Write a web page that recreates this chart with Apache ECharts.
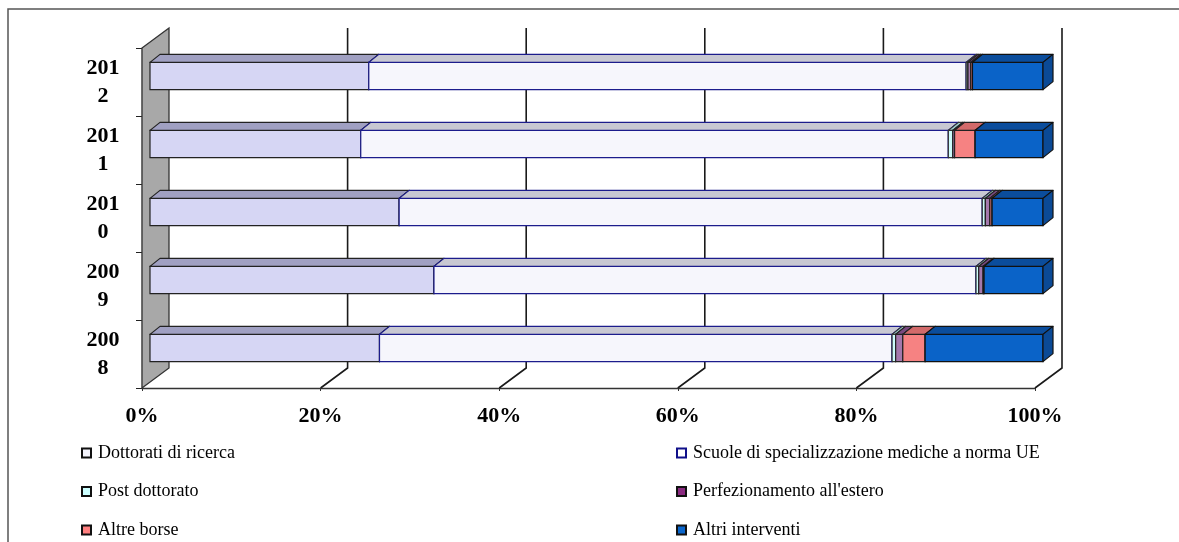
<!DOCTYPE html>
<html>
<head>
<meta charset="utf-8">
<script src="https://cdn.jsdelivr.net/npm/echarts@6/dist/echarts.min.js"></script>
<style>
  html, body { margin: 0; padding: 0; background: #fff; }
  #chart { width: 1179px; height: 542px; }
</style>
</head>
<body>
<div id="chart"></div>
<script>
// Categories (bottom to top) and x-axis ticks
const years = ['2008', '2009', '2010', '2011', '2012'];
const xTicks = [0, 20, 40, 60, 80, 100];

// Share of funding per year (%)
const dottorati       = [25.7, 31.8, 27.9, 23.6, 24.5];
const scuole          = [57.4, 60.7, 65.3, 65.8, 66.9];
const postDottorato   = [0.4, 0.3, 0.35, 0.5, 0.2];
const perfezionamento = [0.8, 0.5, 0.5, 0.2, 0.3];
const altreBorse      = [2.5, 0.1, 0.25, 2.3, 0.2];
const altriInterventi = [13.2, 6.6, 5.7, 7.6, 7.9];

const names = [
  'Dottorati di ricerca',
  'Scuole di specializzazione mediche a norma UE',
  'Post dottorato',
  "Perfezionamento all'estero",
  'Altre borse',
  'Altri interventi'
];
const values = [dottorati, scuole, postDottorato, perfezionamento, altreBorse, altriInterventi];

// Face colours: front, top, side, outline
const faces = [
  { front: '#d6d6f4', top: '#a0a0c2', side: '#a0a0c2', line: '#222222' },
  { front: '#f6f6fc', top: '#c8c8d2', side: '#c8c8d2', line: '#1c1c8c' },
  { front: '#ccfcfc', top: '#9ccccc', side: '#9ccccc', line: '#333333' },
  { front: '#a478ac', top: '#7a4a80', side: '#7a4a80', line: '#222222' },
  { front: '#f68282', top: '#d26a6a', side: '#c86060', line: '#222222' },
  { front: '#0a63c8', top: '#0b4d9c', side: '#0b4a96', line: '#111111' }
];
const legendIcons = [
  { color: '#f4f4fc', borderColor: '#111111' },
  { color: '#ffffff', borderColor: '#10108a' },
  { color: '#ccffff', borderColor: '#111111' },
  { color: '#8a2a80', borderColor: '#111111' },
  { color: '#ff7f7f', borderColor: '#111111' },
  { color: '#0a66cc', borderColor: '#111111' }
];

const FONT = "'Liberation Serif', 'Times New Roman', serif";

// 3D look: back wall offset, bar front offset, bar depth
const WALL_DX = 27, WALL_DY = -20;
const BAR_DX = 8, BAR_DY = -6;
const DEPTH_DX = 10, DEPTH_DY = -8;

// Stacked segments: [start, end, yearIndex]
function segments(k) {
  return years.map((y, i) => {
    let start = 0;
    for (let j = 0; j < k; j++) start += values[j][i];
    return [start, start + values[k][i], i];
  });
}

function barRenderer(face) {
  return function (params, api) {
    const a = api.coord([api.value(0), api.value(2)]);
    const b = api.coord([api.value(1), api.value(2)]);
    const band = api.size([0, 1])[1];
    const h = band * 0.4;
    const x0 = a[0] + BAR_DX, x1 = b[0] + BAR_DX;
    const yc = a[1] + BAR_DY;
    const yt = yc - h / 2, yb = yc + h / 2;
    const lw = 1.2;
    return {
      type: 'group',
      children: [
        { type: 'rect', shape: { x: x0, y: yt, width: x1 - x0, height: h },
          style: { fill: face.front, stroke: face.line, lineWidth: lw } },
        { type: 'polygon', shape: { points: [[x0, yt], [x1, yt], [x1 + DEPTH_DX, yt + DEPTH_DY], [x0 + DEPTH_DX, yt + DEPTH_DY]] },
          style: { fill: face.top, stroke: face.line, lineWidth: lw, lineJoin: 'round' } },
        { type: 'polygon', shape: { points: [[x1, yt], [x1 + DEPTH_DX, yt + DEPTH_DY], [x1 + DEPTH_DX, yb + DEPTH_DY], [x1, yb]] },
          style: { fill: face.side, stroke: face.line, lineWidth: lw, lineJoin: 'round' } }
      ]
    };
  };
}

// Side wall, back-wall grid lines and floor diagonals
function wallRenderer(params, api) {
  const v = api.value(0);
  const top = api.coord([v, years.length - 1]);
  const bot = api.coord([v, 0]);
  const band = api.size([0, 1])[1];
  const x = top[0];
  const yTop = top[1] - band / 2, yBot = bot[1] + band / 2;
  if (v === 0) {
    return {
      type: 'polygon',
      shape: { points: [[x, yTop], [x + WALL_DX, yTop + WALL_DY], [x + WALL_DX, yBot + WALL_DY], [x, yBot]] },
      style: { fill: '#a8a8a8', stroke: '#333333', lineWidth: 1.3 }
    };
  }
  return {
    type: 'polyline',
    shape: { points: [[x + WALL_DX, yTop + WALL_DY], [x + WALL_DX, yBot + WALL_DY], [x, yBot]] },
    style: { fill: null, stroke: '#1a1a1a', lineWidth: 1.6 }
  };
}

const series = [{
  type: 'custom',
  name: 'wall',
  z: 1,
  silent: true,
  renderItem: wallRenderer,
  encode: { x: 0, y: 1 },
  data: xTicks.map(v => [v, 0])
}];
names.forEach((n, k) => {
  series.push({
    type: 'custom',
    name: n,
    z: 2,
    itemStyle: { color: faces[k].front },
    renderItem: barRenderer(faces[k]),
    encode: { x: [0, 1], y: 2 },
    data: segments(k)
  });
});

function legendData(idx) {
  return idx.map(k => ({
    name: names[k],
    itemStyle: { color: legendIcons[k].color, borderColor: legendIcons[k].borderColor, borderWidth: 2 }
  }));
}
const legendBase = {
  orient: 'vertical',
  top: 443,
  bottom: 0,
  padding: 0,
  icon: 'rect',
  itemWidth: 9,
  itemHeight: 9,
  itemGap: 18.5,
  selectedMode: false,
  textStyle: { fontFamily: FONT, fontSize: 18, color: '#000', lineHeight: 20, padding: [0, 0, 0, 2] }
};

const chart = echarts.init(document.getElementById('chart'), null, { renderer: 'canvas' });
chart.setOption({
  backgroundColor: '#ffffff',
  animation: false,
  graphic: [{
    type: 'rect', silent: true, z: -10,
    shape: { x: 8, y: 9, width: 1400, height: 800 },
    style: { fill: null, stroke: '#555555', lineWidth: 1.5 }
  }],
  legend: [
    Object.assign({ left: 81, data: legendData([0, 2, 4]) }, legendBase),
    Object.assign({ left: 676, data: legendData([1, 3, 5]) }, legendBase)
  ],
  grid: { left: 142, right: 144, top: 48, bottom: 154 },
  xAxis: {
    type: 'value',
    min: 0, max: 100, interval: 20,
    splitLine: { show: false },
    axisLine: { show: true, lineStyle: { color: '#333333', width: 1.3 } },
    axisTick: { show: true, length: 3, lineStyle: { color: '#333333' } },
    axisLabel: { formatter: '{value}%', fontFamily: FONT, fontSize: 22, fontWeight: 'bold', color: '#000', margin: 17 }
  },
  yAxis: {
    type: 'category',
    data: years,
    axisLine: { show: true, lineStyle: { color: '#222222', width: 1.3 } },
    axisTick: { show: true, length: 6, lineStyle: { color: '#222222' } },
    axisLabel: {
      formatter: v => v.slice(0, 3) + '\n' + v.slice(3),
      align: 'center', margin: 39,
      fontFamily: FONT, fontSize: 22, fontWeight: 'bold', color: '#000', lineHeight: 28
    }
  },
  series: series
});
</script>
</body>
</html>
